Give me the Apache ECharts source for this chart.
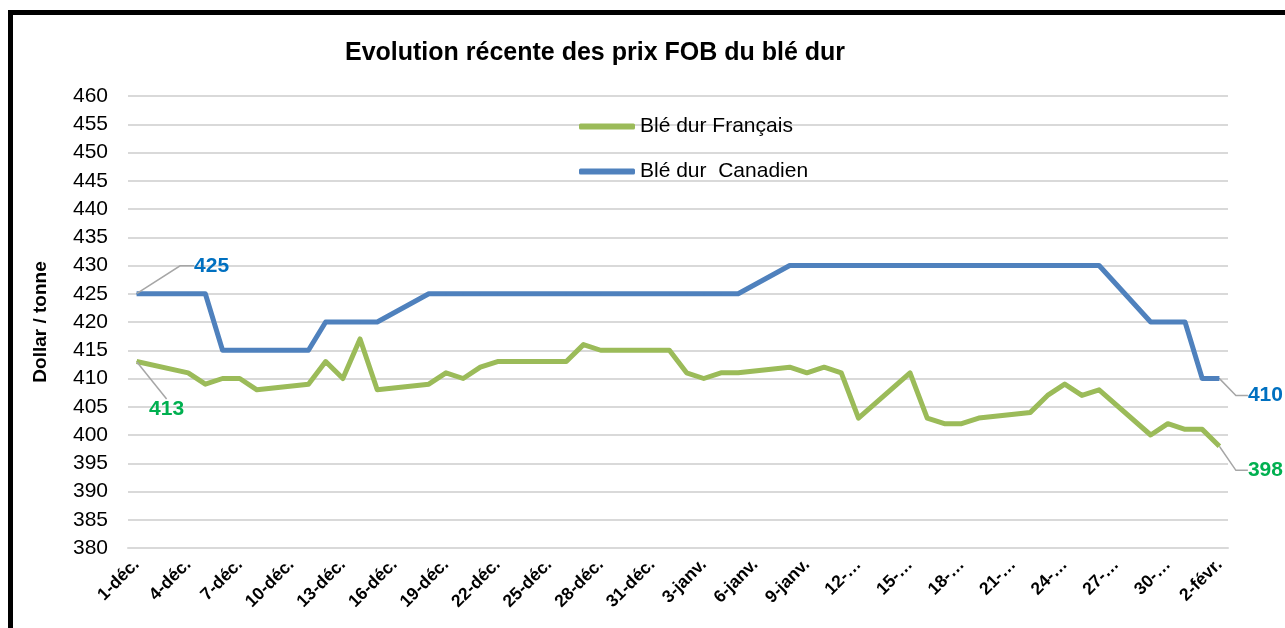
<!DOCTYPE html>
<html>
<head>
<meta charset="utf-8">
<script src="https://cdn.jsdelivr.net/npm/echarts@6/dist/echarts.min.js"></script>
<style>
html,body{margin:0;padding:0;background:#fff;}
#chart{width:1285px;height:628px;}
</style>
</head>
<body>
<div id="chart"></div>
<script>
// ---- DATA ----
const titleText = 'Evolution récente des prix FOB du blé dur';
const yAxisName = 'Dollar / tonne';
const seriesNames = ['Blé dur Français', 'Blé dur  Canadien'];
const months = [['déc.', 31], ['janv.', 31], ['févr.', 2]];
const tickLabels = ['1-déc.','4-déc.','7-déc.','10-déc.','13-déc.','16-déc.','19-déc.','22-déc.','25-déc.','28-déc.','31-déc.',
  '3-janv.','6-janv.','9-janv.','12-…','15-…','18-…','21-…','24-…','27-…','30-…','2-févr.'];
// day index (0 = 1-déc.) of each quotation
const quoteDays = [0,3,4,5,6,7,10,11,12,13,14,17,18,19,20,21,24,25,26,27,28,31,32,33,34,35,
  38,39,40,41,42,45,46,47,48,49,52,53,54,55,56,59,60,61,62,63];
const frenchPrices = [413,411,409,410,410,408,409,413,410,417,408,409,411,410,412,413,413,413,416,415,415,415,411,410,411,411,
  412,411,412,411,403,411,403,402,402,403,404,407,409,407,408,400,402,401,401,398];
const canadianPrices = [425,425,425,415,415,415,415,420,420,420,420,425,425,425,425,425,425,425,425,425,425,425,425,425,425,425,
  430,430,430,430,430,430,430,430,430,430,430,430,430,430,430,420,420,420,410,410];

// ---- BUILD ----
const categories = [];
months.forEach(([m, n]) => { for (let d = 1; d <= n; d++) categories.push(d + '-' + m); });

const labelFont = 'Liberation Sans, Arial, sans-serif';
const lastIdx = quoteDays.length - 1;
// label guide second-segment length per [series][first|last]
const guideLen2 = [[0, 12], [14, 12]];
const labelShift = [[[30, 59], [46, 35]], [[75, -17], [46, 28]]];

function buildData(values, color, s) {
  return quoteDays.map((d, i) => {
    const item = { value: [d, values[i]] };
    if (i === 0 || i === lastIdx) {
      item.label = { show: true, color: color, fontWeight: 'bold', fontSize: 21, fontFamily: labelFont, position: 'top', distance: 0 };
      item.labelLine = { show: true, length2: guideLen2[s][i === 0 ? 0 : 1] };
    }
    return item;
  });
}

const chart = echarts.init(document.getElementById('chart'), null, { renderer: 'canvas' });
chart.setOption({
  backgroundColor: '#fff',
  animation: false,
  textStyle: { fontFamily: labelFont },
  title: {
    text: titleText, left: 590, top: 36, textAlign: 'center',
    textStyle: { fontSize: 25, fontWeight: 'bold', color: '#000', fontFamily: labelFont }
  },
  legend: {
    orient: 'vertical', left: 574, top: 111, itemWidth: 56, itemHeight: 6, itemGap: 24,
    icon: 'roundRect',
    textStyle: { fontSize: 21, color: '#000', fontFamily: labelFont },
    data: [seriesNames[0], seriesNames[1]]
  },
  grid: { left: 128, right: 57, top: 96, bottom: 80, containLabel: false },
  xAxis: {
    type: 'category', data: categories, boundaryGap: true,
    axisLine: { lineStyle: { color: '#d9d9d9', width: 2 } },
    axisTick: { interval: 2, length: 6, lineStyle: { color: '#d9d9d9', width: 2 } },
    axisLabel: {
      interval: 2, rotate: 45, margin: 14, color: '#000', fontWeight: 'bold', fontSize: 17.5, fontFamily: labelFont,
      formatter: (v, idx) => tickLabels[Math.round(idx / 3)]
    },
    splitLine: { show: false }
  },
  yAxis: {
    type: 'value', min: 380, max: 460, interval: 5,
    name: yAxisName, nameLocation: 'middle', nameGap: 78, nameRotate: 90,
    nameTextStyle: { fontSize: 19, fontWeight: 'bold', color: '#000', fontFamily: labelFont },
    axisLine: { show: false }, axisTick: { show: false },
    axisLabel: { color: '#000', fontSize: 21, margin: 20, fontFamily: labelFont },
    splitLine: { lineStyle: { color: '#d9d9d9', width: 2 } }
  },
  series: [
    {
      name: seriesNames[0], type: 'line', color: '#9BBB59',
      data: buildData(frenchPrices, '#00B050', 0),
      lineStyle: { width: 5, color: '#9BBB59', join: 'round' },
      itemStyle: { color: '#9BBB59' },
      symbol: 'circle', symbolSize: 1, showSymbol: true, showAllSymbol: true,
      labelLine: { show: false, lineStyle: { color: '#A6A6A6', width: 1.5 } },
      labelLayout: p => {
        const s = labelShift[0][p.dataIndex === 0 ? 0 : 1];
        return { dx: s[0], dy: s[1] };
      },
      z: 3
    },
    {
      name: seriesNames[1], type: 'line', color: '#4F81BD',
      data: buildData(canadianPrices, '#0070C0', 1),
      lineStyle: { width: 5, color: '#4F81BD', join: 'round' },
      itemStyle: { color: '#4F81BD' },
      symbol: 'circle', symbolSize: 1, showSymbol: true, showAllSymbol: true,
      labelLine: { show: false, lineStyle: { color: '#A6A6A6', width: 1.5 } },
      labelLayout: p => {
        const s = labelShift[1][p.dataIndex === 0 ? 0 : 1];
        return { dx: s[0], dy: s[1] };
      },
      z: 4
    }
  ],
  graphic: [{
    type: 'rect', silent: true, z: 100,
    shape: { x: 10.5, y: 12.5, width: 1400, height: 800 },
    style: { fill: 'none', stroke: '#000', lineWidth: 5 }
  }]
});
</script>
</body>
</html>
